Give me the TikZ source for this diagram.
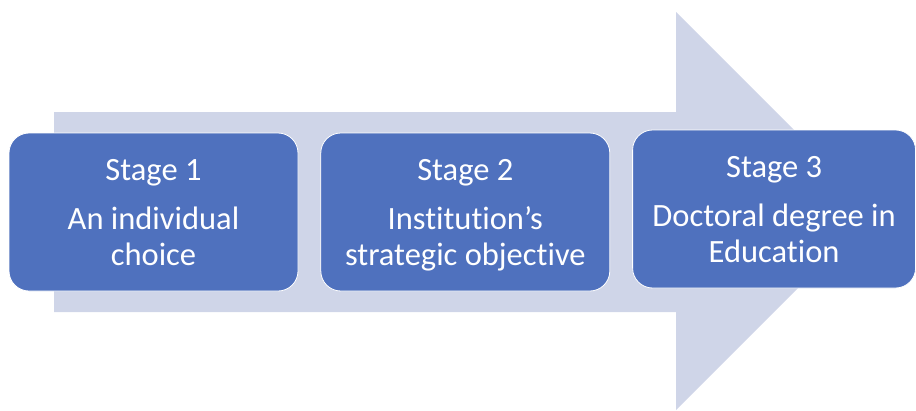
\documentclass[tikz,border=0pt]{standalone}
\usepackage{fontspec}
\setmainfont{Carlito}[Ligatures=NoCommon]
\usetikzlibrary{positioning}

\definecolor{stageblue}{RGB}{79,113,190}
\definecolor{arrowlilac}{RGB}{207,213,232}

\begin{document}
\begin{tikzpicture}
    [
        x=1pt, y=-1pt,
        stage/.style={rectangle, rounded corners=20pt, draw=white, line width=0.8pt,
            fill=stageblue, text=white, align=center, inner sep=0pt,
            minimum width=289pt, minimum height=158pt, text depth=0pt,
            font=\fontsize{32.5}{36}\selectfont},
        bigarrow/.style={fill=arrowlilac},
    ]
    \useasboundingbox (0,0) rectangle (916,410);

    % the wide arrow behind the stages
    \fill[bigarrow] (54,112) -- (676,112) -- (676,12) -- (875,211)
        -- (676,410) -- (676,312) -- (54,312) -- cycle;

    \node[stage] (stage1) at (153.5,212) {Stage 1\\[13pt]An individual\\choice};
    \node[stage] (stage2) [right=22pt of stage1] {Stage 2\\[13pt]Institution’s\\strategic objective};
    \node[stage, minimum width=283pt] (stage3) [right=22pt of stage2, yshift=3pt] {Stage 3\\[13pt]Doctoral degree in\\Education};
\end{tikzpicture}
\end{document}
